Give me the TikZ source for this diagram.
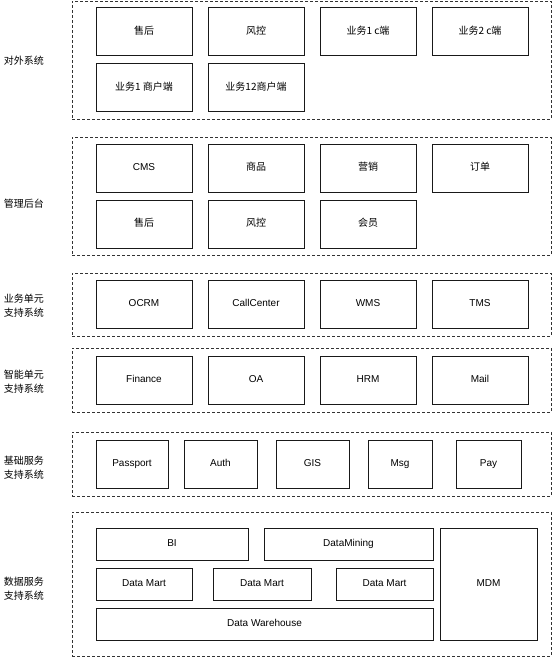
\documentclass[tikz,border=0pt]{standalone}
\usepackage{fontspec}
\setmainfont{Liberation Sans}
\newfontfamily\cjk{Noto Sans CJK SC}
\begin{document}
\begin{tikzpicture}[x=1pt, y=-1pt, font=\fontsize{10}{12}\selectfont,
  sys/.style={draw=black!90, line width=1pt, minimum width=96pt, minimum height=48pt, inner sep=0pt, text height=7pt, text depth=1.5pt},
  sysc/.style={sys, font=\cjk\fontsize{10}{12}\selectfont},
  grp/.style={draw=black!80, line width=0.8pt, dash pattern=on 3pt off 2pt, minimum width=479pt, inner sep=0pt},
  lbl/.style={align=center, font=\cjk\fontsize{10}{14}\selectfont}]
    \useasboundingbox (0,0) rectangle (554,658);
    \node[grp, minimum height=118pt] (ext) at (311.5,60) {};
    \node[lbl] (extlbl) at (24,61) {对外系统};
    \node[sysc] (ext1) at (144,32) {售后};
    \node[sysc] (ext2) at (256,32) {风控};
    \node[sysc] (ext3) at (368,32) {业务1 c端};
    \node[sysc] (ext4) at (480,32) {业务2 c端};
    \node[sysc] (ext5) at (144,88) {业务1 商户端};
    \node[sysc] (ext6) at (256,88) {业务12商户端};

    \node[grp, minimum height=118pt] (adm) at (311.5,196) {};
    \node[lbl] (admlbl) at (24,204) {管理后台};
    \node[sys] (adm1) at (144,168) {CMS};
    \node[sysc] (adm2) at (256,168) {商品};
    \node[sysc] (adm3) at (368,168) {营销};
    \node[sysc] (adm4) at (480,168) {订单};
    \node[sysc] (adm5) at (144,224) {售后};
    \node[sysc] (adm6) at (256,224) {风控};
    \node[sysc] (adm7) at (368,224) {会员};

    \node[grp, minimum height=63pt] (biz) at (311.5,304.5) {};
    \node[lbl] (bizlbl) at (24,306) {业务单元\\支持系统};
    \node[sys] (biz1) at (144,304) {OCRM};
    \node[sys] (biz2) at (256,304) {CallCenter};
    \node[sys] (biz3) at (368,304) {WMS};
    \node[sys] (biz4) at (480,304) {TMS};

    \node[grp, minimum height=64pt] (ai) at (311.5,380) {};
    \node[lbl] (ailbl) at (24,382) {智能单元\\支持系统};
    \node[sys] (ai1) at (144,380) {Finance};
    \node[sys] (ai2) at (256,380) {OA};
    \node[sys] (ai3) at (368,380) {HRM};
    \node[sys] (ai4) at (480,380) {Mail};

    \node[grp, minimum height=64pt] (base) at (311.5,464) {};
    \node[lbl] (baselbl) at (24,468) {基础服务\\支持系统};
    \node[sys, minimum width=72pt] (base1) at (132,464) {Passport};
    \node[sys, minimum width=73pt] (base2) at (220.5,464) {Auth};
    \node[sys, minimum width=73pt] (base3) at (312.5,464) {GIS};
    \node[sys, minimum width=64pt] (base4) at (400,464) {Msg};
    \node[sys, minimum width=65pt] (base5) at (488.5,464) {Pay};

    \node[grp, minimum height=144pt] (data) at (311.5,584) {};
    \node[lbl] (datalbl) at (24,589) {数据服务\\支持系统};
    \node[sys, minimum width=152pt, minimum height=32pt] (bi) at (172,544) {BI};
    \node[sys, minimum width=169pt, minimum height=32pt] (mining) at (348.5,544) {DataMining};
    \node[sys, minimum height=32pt] (mart1) at (144,584) {Data Mart};
    \node[sys, minimum width=98pt, minimum height=32pt] (mart2) at (262,584) {Data Mart};
    \node[sys, minimum width=97pt, minimum height=32pt] (mart3) at (384.5,584) {Data Mart};
    \node[sys, minimum width=337pt, minimum height=32pt] (dw) at (264.5,624) {Data Warehouse};
    \node[sys, minimum width=97pt, minimum height=112pt] (mdm) at (488.5,584) {MDM};
\end{tikzpicture}
\end{document}
